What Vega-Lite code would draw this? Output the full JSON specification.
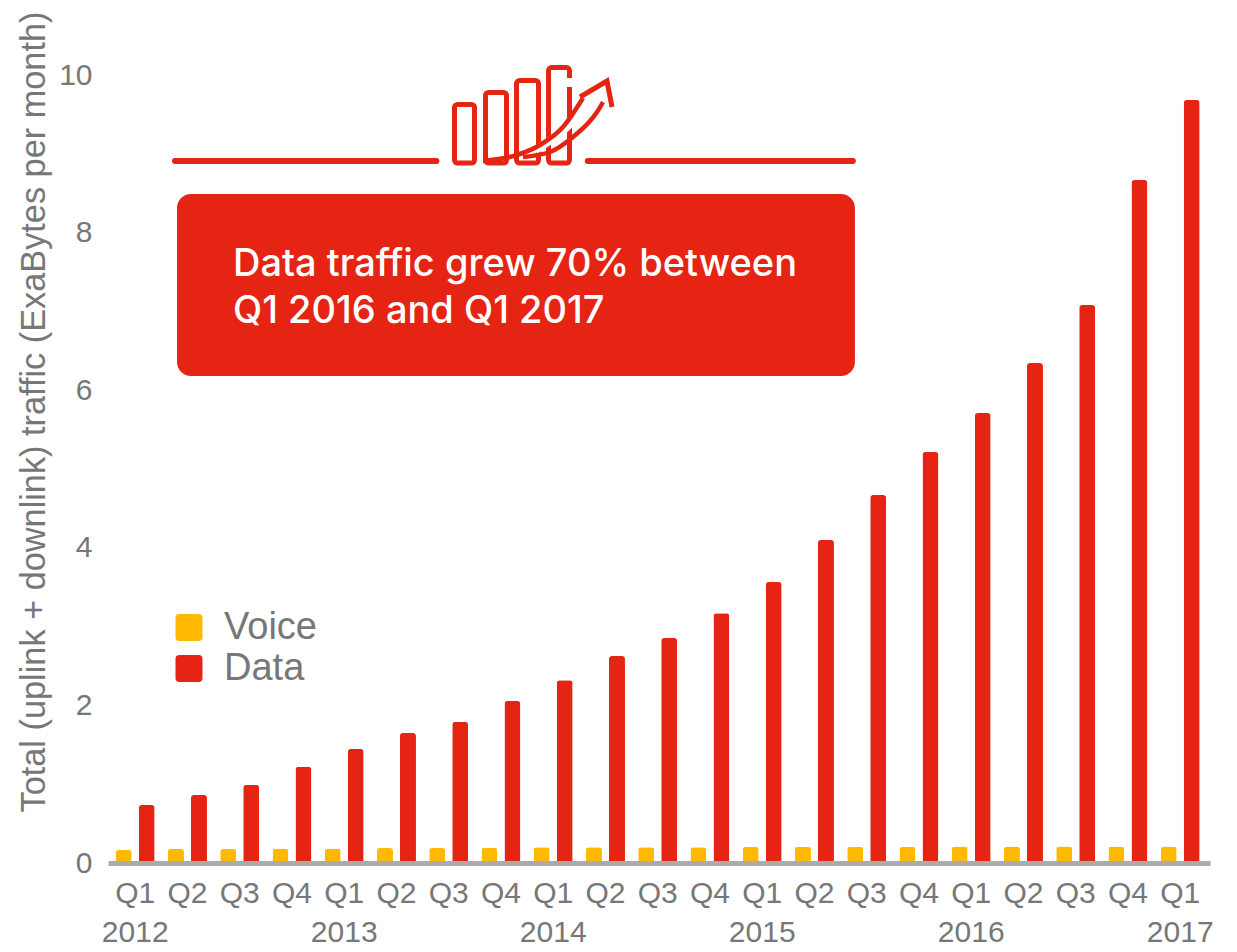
{"$schema":"https://vega.github.io/schema/vega-lite/v6.json","width":1102,"height":819.5,"autosize":"none","padding":{"left":108,"top":43.5,"right":27,"bottom":89},"background":"white","config":{"view":{"stroke":null},"font":"Liberation Sans"},"datasets":{"traffic":[{"period":"Q1 2012","series":"Voice","traffic":0.165},{"period":"Q1 2012","series":"Data","traffic":0.736},{"period":"Q2 2012","series":"Voice","traffic":0.178},{"period":"Q2 2012","series":"Data","traffic":0.863},{"period":"Q3 2012","series":"Voice","traffic":0.178},{"period":"Q3 2012","series":"Data","traffic":0.99},{"period":"Q4 2012","series":"Voice","traffic":0.185},{"period":"Q4 2012","series":"Data","traffic":1.22},{"period":"Q1 2013","series":"Voice","traffic":0.185},{"period":"Q1 2013","series":"Data","traffic":1.447},{"period":"Q2 2013","series":"Voice","traffic":0.19},{"period":"Q2 2013","series":"Data","traffic":1.65},{"period":"Q3 2013","series":"Voice","traffic":0.19},{"period":"Q3 2013","series":"Data","traffic":1.79},{"period":"Q4 2013","series":"Voice","traffic":0.195},{"period":"Q4 2013","series":"Data","traffic":2.056},{"period":"Q1 2014","series":"Voice","traffic":0.2},{"period":"Q1 2014","series":"Data","traffic":2.32},{"period":"Q2 2014","series":"Voice","traffic":0.2},{"period":"Q2 2014","series":"Data","traffic":2.627},{"period":"Q3 2014","series":"Voice","traffic":0.2},{"period":"Q3 2014","series":"Data","traffic":2.855},{"period":"Q4 2014","series":"Voice","traffic":0.2},{"period":"Q4 2014","series":"Data","traffic":3.17},{"period":"Q1 2015","series":"Voice","traffic":0.205},{"period":"Q1 2015","series":"Data","traffic":3.566},{"period":"Q2 2015","series":"Voice","traffic":0.205},{"period":"Q2 2015","series":"Data","traffic":4.1},{"period":"Q3 2015","series":"Voice","traffic":0.205},{"period":"Q3 2015","series":"Data","traffic":4.67},{"period":"Q4 2015","series":"Voice","traffic":0.205},{"period":"Q4 2015","series":"Data","traffic":5.216},{"period":"Q1 2016","series":"Voice","traffic":0.21},{"period":"Q1 2016","series":"Data","traffic":5.71},{"period":"Q2 2016","series":"Voice","traffic":0.21},{"period":"Q2 2016","series":"Data","traffic":6.345},{"period":"Q3 2016","series":"Voice","traffic":0.21},{"period":"Q3 2016","series":"Data","traffic":7.08},{"period":"Q4 2016","series":"Voice","traffic":0.21},{"period":"Q4 2016","series":"Data","traffic":8.667},{"period":"Q1 2017","series":"Voice","traffic":0.21},{"period":"Q1 2017","series":"Data","traffic":9.683}],"iconBars":[{"x":6.596,"x2":6.978,"y":8.883,"y2":9.626},{"x":7.188,"x2":7.589,"y":8.883,"y2":9.778},{"x":7.78,"x2":8.2,"y":8.883,"y2":9.93},{"x":8.391,"x2":8.791,"y":8.883,"y2":10.095}],"casing":[{"part":"curve","k":0,"x":8.133,"y":9.043},{"part":"curve","k":1,"x":8.572,"y":9.233},{"part":"curve","k":2,"x":8.954,"y":9.474},{"part":"curve","k":3,"x":9.259,"y":9.734},{"part":"gap","k":0,"x":8.791,"y":9.962},{"part":"gap","k":1,"x":8.791,"y":9.848}],"arrow":[{"part":"upper","k":0,"x":7.14,"y":8.909},{"part":"upper","k":1,"x":7.789,"y":8.985},{"part":"upper","k":2,"x":8.228,"y":9.112},{"part":"upper","k":3,"x":8.667,"y":9.34},{"part":"upper","k":4,"x":9.049,"y":9.708},{"part":"lower","k":0,"x":7.904,"y":8.96},{"part":"lower","k":1,"x":8.419,"y":9.023},{"part":"lower","k":2,"x":8.858,"y":9.213},{"part":"lower","k":3,"x":9.316,"y":9.53},{"part":"lower","k":4,"x":9.431,"y":9.657}],"head":[{"k":0,"x":8.992,"y":9.721},{"k":1,"x":9.507,"y":9.924},{"k":2,"x":9.603,"y":9.594}]},"layer":[{"data":{"name":"traffic"},"mark":{"type":"bar","width":16,"cornerRadiusTopLeft":3,"cornerRadiusTopRight":3},"encoding":{"x":{"field":"period","type":"nominal","sort":null,"scale":{"paddingInner":0,"paddingOuter":0.0455,"align":0.23},"axis":{"title":null,"domain":true,"domainColor":"#ABABAB","domainWidth":5,"ticks":false,"grid":false,"labelAngle":0,"labelAlign":"center","labelBaseline":"top","labelFontSize":30,"labelColor":"#777777","labelPadding":15,"labelLineHeight":39,"labelOverlap":false,"labelBound":false,"labelFlush":false,"labelLimit":0,"zindex":1,"labelExpr":"slice(datum.value,0,2)=='Q1' ? [slice(datum.value,0,2), slice(datum.value,3)] : slice(datum.value,0,2)"}},"xOffset":{"field":"series","type":"nominal","sort":["Voice","Data"],"scale":{"domain":["Voice","Data"],"paddingInner":0.304,"paddingOuter":0.288}},"y":{"field":"traffic","type":"quantitative","scale":{"domain":[0,10.4],"nice":false},"axis":{"title":"Total (uplink + downlink) traffic (ExaBytes per month)","titleFontSize":34.3,"titleFontWeight":"normal","titleColor":"#777777","titleX":-57,"titleY":368,"titleAnchor":"middle","values":[0,2,4,6,8,10],"format":"d","domain":false,"ticks":false,"grid":false,"labelFontSize":30,"labelColor":"#777777","labelPadding":16}},"color":{"field":"series","type":"nominal","scale":{"domain":["Voice","Data"],"range":["#FFB900","#E52413"]},"legend":{"title":null,"orient":"none","legendX":62,"legendY":565,"symbolType":"M-0.7,-1 H0.7 Q1,-1 1,-0.7 V0.7 Q1,1 0.7,1 H-0.7 Q-1,1 -1,0.7 V-0.7 Q-1,-1 -0.7,-1 Z","symbolSize":729,"symbolOpacity":1,"symbolStrokeWidth":0,"labelFontSize":38,"labelColor":"#777777","labelOffset":16,"rowPadding":3}}}},{"encoding":{"x":{"field":"x","type":"quantitative","scale":{"domain":[-0.0191,21.0191],"nice":false,"zero":false},"axis":null},"y":{"field":"y","type":"quantitative"}},"layer":[{"data":{"values":[{"x":1.298,"x2":14.24,"y":6.18,"y2":8.49}]},"mark":{"type":"rect","color":"#E52413","cornerRadius":14},"encoding":{"x2":{"field":"x2"},"y2":{"field":"y2"}}},{"data":{"values":[{"x":1.26,"x2":6.25,"y":8.91},{"x":9.14,"x2":14.2,"y":8.91}]},"mark":{"type":"rule","color":"#E52413","strokeWidth":6,"strokeCap":"round"},"encoding":{"x2":{"field":"x2"}}},{"data":{"name":"iconBars"},"mark":{"type":"rect","fillOpacity":0,"stroke":"#E52413","strokeWidth":5,"cornerRadius":3},"encoding":{"x2":{"field":"x2"},"y2":{"field":"y2"}}},{"data":{"name":"casing"},"mark":{"type":"line","color":"white","strokeWidth":8},"encoding":{"detail":{"field":"part"},"order":{"field":"k"}}},{"data":{"name":"arrow"},"mark":{"type":"line","color":"#E52413","strokeWidth":4.5,"interpolate":"monotone"},"encoding":{"detail":{"field":"part"},"order":{"field":"k"}}},{"data":{"name":"head"},"mark":{"type":"line","color":"#E52413","strokeWidth":5,"strokeJoin":"miter"},"encoding":{"order":{"field":"k"}}},{"data":{"values":[{"x":2.367,"y":7.449,"note":"Data traffic grew 70% between"},{"x":2.367,"y":6.853,"note":"Q1 2016 and Q1 2017"}]},"mark":{"type":"text","align":"left","baseline":"alphabetic","color":"white","font":"Inter","fontWeight":500,"fontSize":38},"encoding":{"text":{"field":"note"}}}]}],"resolve":{"scale":{"x":"independent"}}}
